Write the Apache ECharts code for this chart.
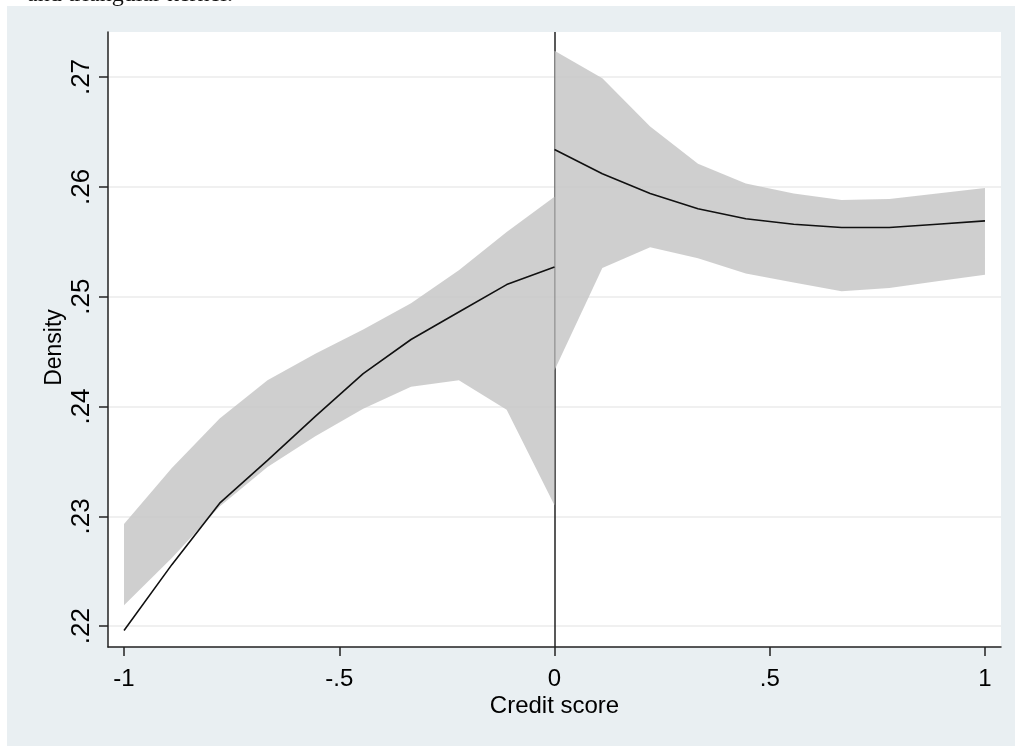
<!DOCTYPE html>
<html>
<head>
<meta charset="utf-8">
<script src="https://cdn.jsdelivr.net/npm/echarts@6/dist/echarts.min.js"></script>
<style>
html,body{margin:0;padding:0;background:#fff;}
#chart{width:1015px;height:746px;}
</style>
</head>
<body>
<div id="chart"></div>
<script>
// ---- data ----
const xLeft  = [-1, -0.8889, -0.7778, -0.6667, -0.5556, -0.4444, -0.3333, -0.2222, -0.1111, 0];
const meanLeft  = [0.2196, 0.2256, 0.2312, 0.2351, 0.2391, 0.2430, 0.2461, 0.2486, 0.2511, 0.2527];
const upperLeft = [0.2293, 0.2344, 0.2389, 0.2424, 0.2448, 0.2470, 0.2494, 0.2524, 0.2559, 0.2591];
const lowerLeft = [0.2219, 0.2262, 0.2309, 0.2345, 0.2373, 0.2398, 0.2418, 0.2424, 0.2397, 0.2310];

const xRight = [0, 0.1111, 0.2222, 0.3333, 0.4444, 0.5556, 0.6667, 0.7778, 0.8889, 1];
const meanRight  = [0.2634, 0.2612, 0.2594, 0.2580, 0.2571, 0.2566, 0.2563, 0.2563, 0.2566, 0.2569];
const upperRight = [0.2724, 0.2699, 0.2655, 0.2621, 0.2603, 0.2594, 0.2588, 0.2589, 0.2594, 0.2599];
const lowerRight = [0.2433, 0.2526, 0.2545, 0.2535, 0.2521, 0.2513, 0.2505, 0.2508, 0.2514, 0.2520];

const cutoff = 0;
const xTickValues = [-1, -0.5, 0, 0.5, 1];
const xTickLabels = ['-1', '-.5', '0', '.5', '1'];
const yTickValues = [0.22, 0.23, 0.24, 0.25, 0.26, 0.27];
const yTickLabels = ['.22', '.23', '.24', '.25', '.26', '.27'];
const xTitle = 'Credit score';
const yTitle = 'Density';
const captionFragment = 'and triangular kernel.';

// ---- helpers ----
function labelFor(values, labels) {
  return function (v) {
    for (let i = 0; i < values.length; i++) {
      if (Math.abs(values[i] - v) < 1e-9) return labels[i];
    }
    return '';
  };
}
function bandSeries(xs, lo, hi) {
  return {
    type: 'custom',
    z: 2,
    silent: true,
    data: xs.map((x, i) => [x, lo[i], hi[i]]),
    encode: { x: 0, y: [1, 2] },
    renderItem: function (params, api) {
      if (params.dataIndex !== 0) return null;
      const pts = [];
      for (let i = 0; i < xs.length; i++) pts.push(api.coord([xs[i], hi[i]]));
      for (let i = xs.length - 1; i >= 0; i--) pts.push(api.coord([xs[i], lo[i]]));
      return {
        type: 'polygon',
        shape: { points: pts },
        style: { fill: 'rgba(196,196,196,0.82)', stroke: null }
      };
    }
  };
}
function meanSeries(xs, ys) {
  return {
    type: 'line',
    z: 3,
    silent: true,
    symbol: 'none',
    data: xs.map((x, i) => [x, ys[i]]),
    lineStyle: { color: '#111', width: 1.6 }
  };
}

const font = '"Liberation Sans", Arial, sans-serif';
const chart = echarts.init(document.getElementById('chart'), null, { renderer: 'canvas' });

chart.setOption({
  animation: false,
  backgroundColor: '#fff',
  graphic: [
    { type: 'rect', z: -10, silent: true,
      shape: { x: 7, y: 6, width: 1015, height: 746 },
      style: { fill: '#e9eff2' } },
    { type: 'text', z: 10, silent: true, left: 27, top: -17,
      style: { text: captionFragment, font: '24px "Liberation Serif", "Times New Roman", serif', fill: '#111' } }
  ],
  grid: {
    left: 108, right: 14, top: 32, bottom: 99,
    show: true, backgroundColor: '#ffffff', borderWidth: 0
  },
  xAxis: {
    type: 'value',
    min: -1.0372, max: 1.0372,
    name: xTitle,
    nameLocation: 'middle',
    nameGap: 47,
    nameMoveOverlap: false,
    nameTextStyle: { fontFamily: font, fontSize: 24, color: '#000' },
    axisLine: { show: true, onZero: false, lineStyle: { color: '#222', width: 1.5 } },
    axisTick: { show: true, length: 9, customValues: xTickValues, lineStyle: { color: '#222', width: 1.5 } },
    axisLabel: { customValues: xTickValues, formatter: labelFor(xTickValues, xTickLabels),
                 fontFamily: font, fontSize: 24, color: '#000', margin: 20 },
    splitLine: { show: false }
  },
  yAxis: {
    type: 'value',
    min: 0.2181, max: 0.2741,
    name: yTitle,
    nameLocation: 'middle',
    nameGap: 42,
    nameMoveOverlap: false,
    nameTextStyle: { fontFamily: font, fontSize: 23, color: '#000', padding: [0, 16, 0, 0] },
    axisLine: { show: true, onZero: false, lineStyle: { color: '#222', width: 1.5 } },
    axisTick: { show: true, length: 9, customValues: yTickValues, lineStyle: { color: '#222', width: 1.5 } },
    axisLabel: { customValues: yTickValues, formatter: labelFor(yTickValues, yTickLabels),
                 rotate: 90, fontFamily: font, fontSize: 26, color: '#000', margin: 13 },
    splitLine: { show: true, lineStyle: { color: '#ebebeb', width: 1.5 } }
  },
  series: [
    {
      type: 'line', z: 1, silent: true, symbol: 'none', data: [],
      markLine: {
        z: 1, silent: true, symbol: 'none', label: { show: false },
        lineStyle: { color: '#222', width: 1.5, type: 'solid' },
        data: [{ xAxis: cutoff }]
      }
    },
    bandSeries(xLeft, lowerLeft, upperLeft),
    bandSeries(xRight, lowerRight, upperRight),
    meanSeries(xLeft, meanLeft),
    meanSeries(xRight, meanRight)
  ]
});
</script>
</body>
</html>
